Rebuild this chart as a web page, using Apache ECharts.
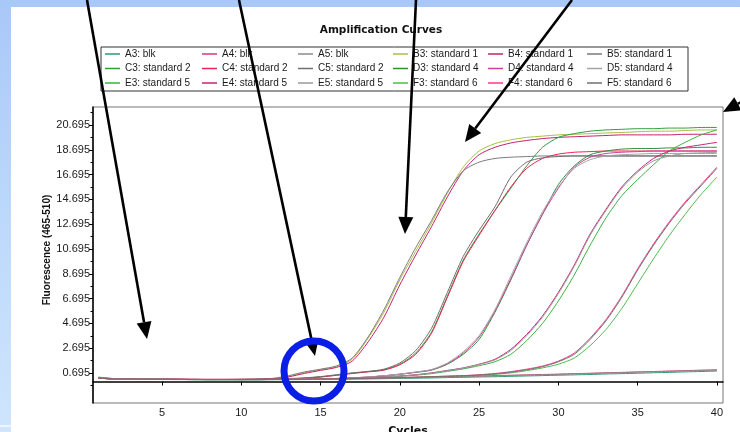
<!DOCTYPE html>
<html>
<head>
<meta charset="utf-8">
<script src="https://cdn.jsdelivr.net/npm/echarts@6/dist/echarts.min.js"></script>
<style>
  html, body { margin:0; padding:0; width:740px; height:432px; overflow:hidden; }
  body { background: linear-gradient(to bottom, #a8c8f8 0%, #bcd8fb 50%, #cfe5fd 100%); position:relative; }
  #panel { position:absolute; left:11px; top:7px; right:0; bottom:0; background:#fff; }
  #strip { position:absolute; left:0; top:425px; width:11px; height:2px; background:#eef5ff; }
  #chart { position:absolute; left:0; top:0; width:740px; height:432px; }
</style>
</head>
<body>
<div id="panel"></div>
<div id="strip"></div>
<div id="chart"></div>
<script>
// ---------- data ----------
const cycles = [1,2,3,4,5,6,7,8,9,10,11,12,13,14,15,16,17,18,19,20,21,22,23,24,25,26,27,28,29,30,31,32,33,34,35,36,37,38,39,40];
const xTicks = [5,10,15,20,25,30,35,40];
const yTicks = [0.695,2.695,4.695,6.695,8.695,10.695,12.695,14.695,16.695,18.695,20.695];
const yMinorTicks = [-0.305,1.695,3.695,5.695,7.695,9.695,11.695,13.695,15.695,17.695,19.695,21.695];

const A3 = [0.36,0.24,0.19,0.18,0.17,0.16,0.16,0.15,0.15,0.14,0.14,0.15,0.15,0.16,0.17,0.18,0.20,0.21,0.23,0.25,0.27,0.29,0.32,0.34,0.37,0.39,0.42,0.45,0.48,0.51,0.54,0.57,0.61,0.64,0.67,0.71,0.74,0.78,0.81,0.85];
const A4 = [0.26,0.22,0.21,0.20,0.19,0.18,0.18,0.17,0.17,0.17,0.17,0.18,0.19,0.20,0.21,0.23,0.24,0.26,0.28,0.31,0.33,0.36,0.39,0.42,0.45,0.48,0.51,0.54,0.57,0.60,0.64,0.67,0.71,0.74,0.78,0.81,0.85,0.88,0.92,0.95];
const A5 = [0.28,0.21,0.20,0.19,0.18,0.17,0.16,0.16,0.16,0.15,0.15,0.16,0.17,0.18,0.19,0.20,0.22,0.24,0.26,0.29,0.31,0.34,0.37,0.40,0.43,0.46,0.49,0.52,0.55,0.58,0.62,0.65,0.69,0.72,0.76,0.79,0.82,0.86,0.89,0.92];

const B3 = [0.32,0.23,0.20,0.19,0.18,0.17,0.16,0.16,0.16,0.17,0.19,0.23,0.42,0.72,0.95,1.2,1.8,3.5,5.6,8.2,10.5,12.8,15.2,17.3,18.6,19.2,19.5,19.7,19.8,19.9,19.95,20.0,20.05,20.1,20.15,20.2,20.2,20.25,20.3,20.3];
const B4 = [0.27,0.21,0.20,0.19,0.18,0.18,0.17,0.17,0.17,0.18,0.19,0.22,0.38,0.66,0.9,1.14,1.65,3.2,5.2,7.8,10.2,12.5,14.9,17.0,18.3,18.9,19.25,19.45,19.6,19.7,19.75,19.8,19.85,19.9,19.9,19.9,19.9,19.95,19.95,19.95];
const B5 = [0.30,0.22,0.20,0.19,0.18,0.17,0.17,0.16,0.17,0.18,0.20,0.26,0.48,0.78,1.0,1.26,1.9,3.6,5.8,8.4,10.8,13.0,15.3,17.0,17.7,18.0,18.1,18.15,18.2,18.2,18.2,18.2,18.2,18.2,18.2,18.2,18.2,18.2,18.2,18.2];

const C3 = [0.30,0.22,0.20,0.19,0.18,0.17,0.16,0.16,0.16,0.16,0.17,0.19,0.22,0.28,0.38,0.52,0.68,0.8,0.95,1.4,2.3,4.0,6.9,9.8,11.9,13.8,15.6,17.4,18.9,19.7,20.0,20.2,20.3,20.35,20.4,20.4,20.45,20.45,20.5,20.5];
const C4 = [0.26,0.21,0.20,0.19,0.18,0.18,0.17,0.17,0.17,0.17,0.18,0.19,0.21,0.26,0.36,0.50,0.65,0.78,0.92,1.35,2.2,3.9,6.8,9.7,11.8,13.8,15.7,17.2,18.0,18.35,18.5,18.55,18.6,18.6,18.6,18.6,18.6,18.6,18.6,18.6];
const C5 = [0.28,0.21,0.20,0.19,0.18,0.17,0.17,0.16,0.16,0.17,0.18,0.20,0.24,0.30,0.40,0.55,0.70,0.82,1.0,1.5,2.5,4.3,7.2,10.1,12.2,14.1,16.5,17.7,18.05,18.15,18.2,18.2,18.2,18.2,18.2,18.2,18.2,18.2,18.2,18.2];

const D3 = [0.30,0.22,0.20,0.19,0.18,0.17,0.16,0.16,0.16,0.16,0.16,0.17,0.18,0.19,0.21,0.24,0.29,0.36,0.46,0.58,0.74,0.92,1.4,2.2,3.4,5.6,8.2,11.0,13.5,15.9,17.4,18.3,18.6,18.75,18.8,18.8,18.85,18.85,18.9,18.9];
const D4 = [0.27,0.21,0.20,0.19,0.18,0.18,0.17,0.17,0.17,0.17,0.17,0.18,0.19,0.20,0.22,0.25,0.30,0.37,0.47,0.6,0.76,0.95,1.45,2.3,3.6,5.7,8.3,11.0,13.5,15.6,17.3,18.1,18.4,18.5,18.55,18.6,18.6,18.6,18.6,18.6];
const D5 = [0.28,0.21,0.20,0.19,0.18,0.17,0.17,0.16,0.16,0.16,0.17,0.17,0.18,0.20,0.22,0.25,0.30,0.37,0.47,0.6,0.77,0.97,1.5,2.4,3.7,5.8,8.5,11.2,13.7,15.7,17.2,17.9,18.2,18.3,18.35,18.4,18.4,18.4,18.4,18.4];

const E3 = [0.31,0.23,0.20,0.19,0.18,0.17,0.16,0.16,0.16,0.16,0.16,0.17,0.18,0.19,0.21,0.23,0.26,0.30,0.35,0.42,0.51,0.64,0.82,1.02,1.28,1.6,2.2,3.3,4.7,6.5,8.6,11.0,13.2,15.0,16.3,17.5,18.6,19.3,19.9,20.3];
const E4 = [0.27,0.21,0.20,0.19,0.18,0.18,0.17,0.17,0.17,0.17,0.17,0.18,0.19,0.20,0.22,0.25,0.28,0.32,0.38,0.45,0.55,0.7,0.9,1.1,1.4,1.8,2.6,3.8,5.3,7.2,9.4,11.9,13.9,15.7,17.0,18.0,18.6,18.9,19.1,19.3];
const E5 = [0.28,0.21,0.20,0.19,0.18,0.17,0.17,0.16,0.16,0.16,0.16,0.17,0.18,0.19,0.21,0.24,0.27,0.31,0.37,0.44,0.54,0.68,0.88,1.08,1.38,1.75,2.5,3.7,5.2,7.1,9.3,11.8,13.8,15.6,16.9,17.8,18.2,18.4,18.45,18.5];

const F3 = [0.30,0.22,0.20,0.19,0.18,0.17,0.16,0.16,0.16,0.16,0.16,0.17,0.18,0.19,0.20,0.21,0.23,0.25,0.28,0.31,0.34,0.37,0.41,0.45,0.5,0.58,0.7,0.88,1.1,1.4,1.9,2.9,4.2,5.9,7.9,9.9,11.8,13.5,15.1,16.5];
const F4 = [0.27,0.21,0.20,0.19,0.18,0.18,0.17,0.17,0.17,0.17,0.17,0.18,0.19,0.20,0.21,0.22,0.24,0.27,0.30,0.33,0.36,0.40,0.44,0.48,0.55,0.65,0.8,1.0,1.25,1.65,2.3,3.5,5.0,6.9,9.1,11.1,12.9,14.5,15.9,17.3];
const F5 = [0.28,0.21,0.20,0.19,0.18,0.17,0.17,0.16,0.16,0.16,0.16,0.17,0.18,0.19,0.20,0.22,0.24,0.26,0.29,0.32,0.35,0.39,0.43,0.47,0.53,0.62,0.76,0.95,1.2,1.6,2.2,3.4,4.9,6.8,9.0,11.0,12.8,14.4,15.8,17.2];

const seriesDefs = [
  ['A3: blk', '#2a9d6a', A3], ['A4: blk', '#e0307e', A4], ['A5: blk', '#8a8a8a', A5],
  ['B3: standard 1', '#a8c040', B3], ['B4: standard 1', '#c4206e', B4], ['B5: standard 1', '#7a7a7a', B5],
  ['C3: standard 2', '#2e9e3e', C3], ['C4: standard 2', '#ee2255', C4], ['C5: standard 2', '#6e6e6e', C5],
  ['D3: standard 4', '#2d8f3a', D3], ['D4: standard 4', '#d23c9c', D4], ['D5: standard 4', '#a4a4a4', D5],
  ['E3: standard 5', '#3cb044', E3], ['E4: standard 5', '#c8207a', E4], ['E5: standard 5', '#9a9a9a', E5],
  ['F3: standard 6', '#4cbc4c', F3], ['F4: standard 6', '#ff3a8c', F4], ['F5: standard 6', '#707070', F5]
];
const legendCols = [
  ['A3: blk','C3: standard 2','E3: standard 5'],
  ['A4: blk','C4: standard 2','E4: standard 5'],
  ['A5: blk','C5: standard 2','E5: standard 5'],
  ['B3: standard 1','D3: standard 4','F3: standard 6'],
  ['B4: standard 1','D4: standard 4','F4: standard 6'],
  ['B5: standard 1','D5: standard 4','F5: standard 6']
];
// annotation overlays (pixel positions of arrows and circle drawn on top of the picture)
const arrows = [[87,0,147,339],[239,0,315,356],[416,0,405,234],[572,0,465,142],[752,96,723,112]];
const circleMark = [314, 371, 30];

// ---------- chart ----------
const FONT = '"Liberation Sans", Arial, sans-serif';
const chart = echarts.init(document.getElementById('chart'), null, {renderer:'canvas'});
const legendLefts = [105, 202, 298, 393, 488, 587];

const graphics = [];
graphics.push({type:'text', x:381, y:30, z:100,
  style:{text:'Amplification Curves', font:'bold 10.5px "DejaVu Sans", sans-serif', fill:'#111', textAlign:'center', textVerticalAlign:'middle'}});
graphics.push({type:'rect', z:100, shape:{x:101, y:47, width:587, height:44},
  style:{fill:null, stroke:'#333', lineWidth:1}});
graphics.push({type:'text', x:47, y:250, rotation:Math.PI/2, z:100,
  style:{text:'Fluorescence (465-510)', font:'bold 10px ' + FONT, fill:'#111', textAlign:'center', textVerticalAlign:'middle'}});
graphics.push({type:'text', x:408, y:431, z:100,
  style:{text:'Cycles', font:'bold 11px "DejaVu Sans", sans-serif', fill:'#111', textAlign:'center', textVerticalAlign:'middle'}});
arrows.forEach(a => {
  const [x0,y0,x1,y1] = a;
  const dx = x1-x0, dy = y1-y0, L = Math.hypot(dx,dy);
  const ux = dx/L, uy = dy/L, hl = 17, hw = 7.5;
  const bx = x1 - ux*hl, by = y1 - uy*hl;
  graphics.push({type:'line', z:110, shape:{x1:x0, y1:y0, x2:bx, y2:by}, style:{stroke:'#000', lineWidth:2.6}});
  graphics.push({type:'polygon', z:110, shape:{points:[[x1,y1],[bx - uy*hw, by + ux*hw],[bx + uy*hw, by - ux*hw]]}, style:{fill:'#000'}});
});
graphics.push({type:'circle', z:120, shape:{cx:circleMark[0], cy:circleMark[1], r:circleMark[2]},
  style:{fill:null, stroke:'#0a1ee6', lineWidth:7}});

const option = {
  animation: false,
  backgroundColor: 'transparent',
  grid: {left:93, top:107, right:17, bottom:29, show:true, borderColor:'#777', borderWidth:1, backgroundColor:'transparent'},
  legend: legendCols.map((names, i) => ({
    orient:'vertical', left: legendLefts[i], top: 48, padding: 0,
    itemWidth: 15, itemHeight: 1.5, itemGap: 2.5, icon: 'rect', selectedMode: false,
    data: names,
    textStyle: {fontSize: 10, lineHeight: 12, color: '#1a1a1a', fontFamily: FONT}
  })),
  xAxis: {
    type:'value', min:0.65, max:40.38,
    axisLine:{show:true, lineStyle:{color:'#000', width:1.5}},
    axisTick:{show:true, length:4, customValues:xTicks, lineStyle:{color:'#000'}},
    axisLabel:{customValues:xTicks, margin:4, fontSize:11, color:'#1a1a1a', fontFamily:FONT},
    splitLine:{show:false}
  },
  yAxis: [{
    type:'value', min:-1.73, max:22.15,
    axisLine:{show:true, lineStyle:{color:'#000', width:1.5}},
    axisTick:{show:true, length:4, customValues:yTicks, lineStyle:{color:'#000'}},
    axisLabel:{customValues:yTicks, margin:3, fontSize:11, color:'#1a1a1a', fontFamily:FONT,
      formatter: v => v.toFixed(3)},
    splitLine:{show:false}
  },{
    type:'value', min:-1.73, max:22.15, position:'left',
    axisLine:{show:false},
    axisTick:{show:true, length:2.5, customValues:yMinorTicks, lineStyle:{color:'#000'}},
    axisLabel:{show:false, customValues:yMinorTicks},
    splitLine:{show:false}
  }],
  series: seriesDefs.map(([name, color, vals]) => ({
    name, type:'line', color, showSymbol:false, symbol:'none', smooth:0.25,
    lineStyle:{width:1, color}, itemStyle:{color}, yAxisIndex:0,
    data: cycles.map((c, i) => [c, vals[i]])
  })),
  graphic: graphics
};
chart.setOption(option);
</script>
</body>
</html>
